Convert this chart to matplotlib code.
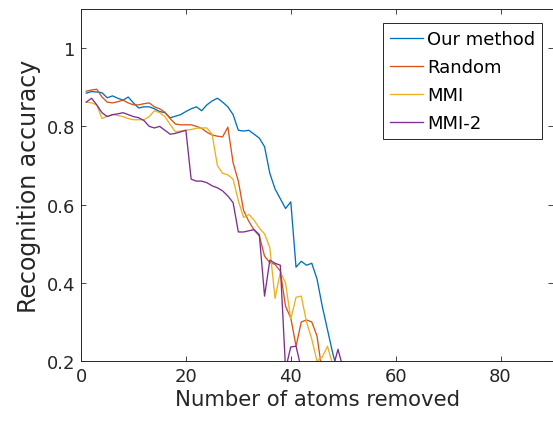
import matplotlib
matplotlib.use("Agg")
import matplotlib.pyplot as plt
import numpy as np

plt.rcParams['font.family'] = ['DejaVu Sans']

labels = ["Our method", "Random", "MMI", "MMI-2"]
colors = ["#0072BD", "#D95319", "#EDB120", "#7E2F8E"]

our_method = [0.885, 0.889, 0.888, 0.886, 0.873, 0.878, 0.872, 0.867, 0.875, 0.86,
              0.847, 0.85, 0.85, 0.845, 0.838, 0.835, 0.822, 0.826, 0.83, 0.838,
              0.845, 0.85, 0.84, 0.855, 0.865, 0.872, 0.862, 0.85, 0.83, 0.79,
              0.788, 0.79, 0.78, 0.77, 0.748, 0.68, 0.64, 0.615, 0.59, 0.607,
              0.44, 0.455, 0.445, 0.45, 0.41, 0.34, 0.28, 0.22, 0.17]
random_ = [0.89, 0.893, 0.895, 0.875, 0.862, 0.86, 0.863, 0.867, 0.86, 0.855,
           0.855, 0.858, 0.86, 0.85, 0.845, 0.836, 0.82, 0.806, 0.804, 0.804,
           0.804, 0.80, 0.795, 0.785, 0.778, 0.775, 0.773, 0.798, 0.707, 0.66,
           0.585, 0.557, 0.535, 0.52, 0.468, 0.452, 0.447, 0.43, 0.34, 0.31,
           0.238, 0.30, 0.305, 0.30, 0.264, 0.17]
mmi = [0.862, 0.86, 0.855, 0.82, 0.826, 0.83, 0.828, 0.825, 0.82, 0.817,
       0.817, 0.817, 0.825, 0.84, 0.835, 0.825, 0.805, 0.786, 0.788, 0.79,
       0.792, 0.795, 0.796, 0.796, 0.78, 0.70, 0.68, 0.676, 0.665, 0.61,
       0.567, 0.575, 0.56, 0.54, 0.525, 0.49, 0.36, 0.427, 0.40, 0.307,
       0.363, 0.366, 0.30, 0.256, 0.20, 0.21, 0.238, 0.19]
mmi2 = [0.862, 0.872, 0.855, 0.835, 0.825, 0.83, 0.832, 0.835, 0.83, 0.825,
        0.822, 0.815, 0.80, 0.796, 0.80, 0.79, 0.78, 0.782, 0.786, 0.79,
        0.665, 0.66, 0.66, 0.656, 0.648, 0.643, 0.635, 0.622, 0.605, 0.53,
        0.53, 0.533, 0.536, 0.523, 0.366, 0.458, 0.45, 0.445, 0.18, 0.236,
        0.238, 0.18, 0.18, 0.18, 0.18, 0.18, 0.18, 0.18, 0.23, 0.18]

series = [our_method, random_, mmi, mmi2]

x_ticks = [0, 20, 40, 60, 80]
y_ticks = [0.2, 0.4, 0.6, 0.8, 1.0]
y_tick_labels = ["0.2", "0.4", "0.6", "0.8", "1"]

fig = plt.figure(figsize=(5.53, 4.31), dpi=100)
ax = fig.add_axes([0.1465, 0.160, 0.8535, 0.8167])

for vals, lab, c in zip(series, labels, colors):
    xs = np.arange(1, len(vals) + 1)
    ax.plot(xs, vals, color=c, lw=0.95, label=lab)

ax.set_xlim(0, 90)
ax.set_ylim(0.2, 1.1)
ax.set_xticks(x_ticks)
ax.set_yticks(y_ticks)
ax.set_yticklabels(y_tick_labels)
ax.tick_params(direction='in', length=3.6, width=0.6, top=True, right=True,
               labelsize=13, colors='#262626', pad=4)
for s in ax.spines.values():
    s.set_color('#262626')
    s.set_linewidth(0.7)

ax.set_xlabel("Number of atoms removed", fontsize=15.3, color='#262626', labelpad=3)
ax.set_ylabel("Recognition accuracy", fontsize=17, color='#262626', labelpad=4)

leg = ax.legend(loc='upper right', bbox_to_anchor=(0.977, 0.960), borderaxespad=0,
                fontsize=13, handlelength=1.85, handletextpad=0.2, labelspacing=0.55,
                borderpad=0.4, fancybox=False, framealpha=1, edgecolor='#262626')
leg.get_frame().set_linewidth(0.7)

fig.savefig("out.png", dpi=100)
